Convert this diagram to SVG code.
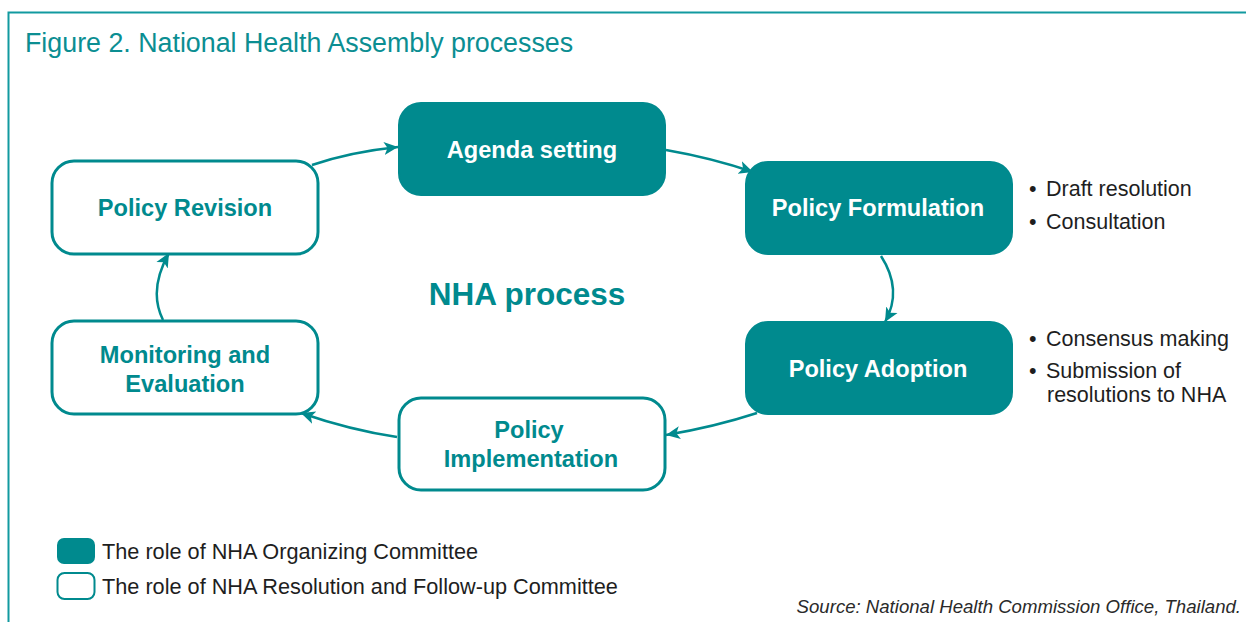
<svg xmlns="http://www.w3.org/2000/svg" width="1246" height="622" viewBox="0 0 1246 622">
<defs>
<style>
.frame{fill:none;stroke:#129aa0;stroke-width:2}
.title{font-family:"Liberation Sans",Arial,sans-serif;font-size:26.8px;fill:#0b8e92}
.fill{fill:#008a8e;stroke:#008a8e;stroke-width:2}
.out{fill:#ffffff;stroke:#008a8e;stroke-width:3}
.lw{font-family:"Liberation Sans",Arial,sans-serif;font-weight:bold;font-size:23.6px;fill:#ffffff;text-anchor:middle}
.lt{font-family:"Liberation Sans",Arial,sans-serif;font-weight:bold;font-size:23.6px;fill:#008a8e;text-anchor:middle}
.center{font-family:"Liberation Sans",Arial,sans-serif;font-weight:bold;font-size:31.5px;fill:#008a8e;text-anchor:middle}
.note{font-family:"Liberation Sans",Arial,sans-serif;font-size:21.5px;fill:#1e1e1e}
.leg{font-family:"Liberation Sans",Arial,sans-serif;font-size:21.7px;fill:#1e1e1e}
.src{font-family:"Liberation Sans",Arial,sans-serif;font-style:italic;font-size:18.6px;fill:#2a2a2a;text-anchor:end}
.conn{fill:none;stroke:#008a8e;stroke-width:2.5;marker-end:url(#arrow)}
</style>
<marker id="arrow" markerUnits="userSpaceOnUse" markerWidth="16" markerHeight="16" viewBox="0 0 16 16" refX="14" refY="8" orient="auto">
<path d="M0,1.5 L14,8 L0,14.5 L3.5,8 Z" fill="#008a8e"/>
</marker>
</defs>
<rect width="1246" height="622" fill="#ffffff"/>
<path class="frame" d="M8.5,622 L8.5,12.5 L1246,12.5"/>
<text class="title" x="25" y="52">Figure 2. National Health Assembly processes</text>

<g id="connectors">
<path class="conn" d="M312,165 Q350,152 398,147"/>
<path class="conn" d="M666,150 Q712,158 753,172"/>
<path class="conn" d="M881,256 Q903,290 885,322"/>
<path class="conn" d="M757,413 Q714,427 666,435"/>
<path class="conn" d="M397,437 Q350,430 301,413"/>
<path class="conn" d="M163,320 Q148,290 169,253"/>
</g>

<g id="node-agenda">
<rect class="fill" x="399" y="103" width="266" height="92" rx="22"/>
<text class="lw" x="532" y="158">Agenda setting</text>
</g>
<g id="node-formulation">
<rect class="fill" x="746" y="162" width="266" height="92" rx="22"/>
<text class="lw" x="878" y="216">Policy Formulation</text>
</g>
<g id="node-adoption">
<rect class="fill" x="746" y="322" width="266" height="92" rx="22"/>
<text class="lw" x="878" y="377">Policy Adoption</text>
</g>
<g id="node-implementation">
<rect class="out" x="399" y="398" width="266" height="92" rx="22"/>
<text class="lt" x="529" y="438">Policy</text>
<text class="lt" x="531" y="467">Implementation</text>
</g>
<g id="node-monitoring">
<rect class="out" x="52" y="321" width="266" height="93" rx="22"/>
<text class="lt" x="185" y="363">Monitoring and</text>
<text class="lt" x="185" y="392">Evaluation</text>
</g>
<g id="node-revision">
<rect class="out" x="52" y="161" width="266" height="93" rx="22"/>
<text class="lt" x="185" y="216">Policy Revision</text>
</g>

<text class="center" x="527" y="305">NHA process</text>

<g id="notes">
<text class="note" x="1029" y="196">•</text><text class="note" x="1046" y="196">Draft resolution</text>
<text class="note" x="1029" y="229">•</text><text class="note" x="1046" y="229">Consultation</text>
<text class="note" x="1029" y="346">•</text><text class="note" x="1046" y="346">Consensus making</text>
<text class="note" x="1029" y="378">•</text><text class="note" x="1046" y="378">Submission of</text>
<text class="note" x="1047" y="402">resolutions to NHA</text>
</g>

<g id="legend">
<rect x="57" y="538" width="38" height="26" rx="7" fill="#008a8e"/>
<text class="leg" x="102" y="559">The role of NHA Organizing Committee</text>
<rect x="57.5" y="573" width="37" height="26" rx="7" fill="#ffffff" stroke="#008a8e" stroke-width="2"/>
<text class="leg" x="102" y="594">The role of NHA Resolution and Follow-up Committee</text>
</g>

<text class="src" x="1241" y="613">Source: National Health Commission Office, Thailand.</text>
</svg>
